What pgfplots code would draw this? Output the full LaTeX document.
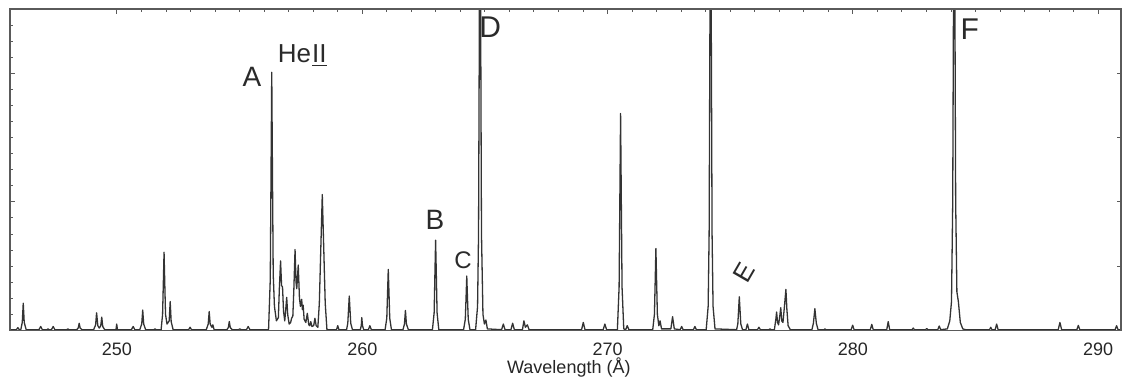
\documentclass[border=0pt]{standalone}
\usepackage{pgfplots}
\pgfplotsset{compat=1.18}
\usepackage{pgfplotstable}
\usepackage{fontspec}
\setmainfont{Liberation Sans}
\definecolor{specline}{HTML}{333333}
\definecolor{framecol}{HTML}{5A5A5A}
\definecolor{inkcol}{HTML}{2A2A2A}
\pgfplotstableread{
x y
245.64 0.05
245.90 0.05
245.96 0.18
246.02 0.05
246.08 0.05
246.14 0.5
246.18 1.7
246.22 0.5
246.30 0.05
246.82 0.05
246.89 0.25
246.96 0.05
247.15 0.05
247.19 0.1
247.23 0.05
247.33 0.05
247.40 0.25
247.47 0.05
247.95 0.05
248.00 0.1
248.05 0.05
248.36 0.05
248.42 0.15
248.46 0.45
248.50 0.15
248.58 0.05
249.05 0.05
249.13 0.35
249.17 1.1
249.22 0.3
249.28 0.15
249.34 0.3
249.38 0.83
249.42 0.25
249.50 0.05
249.96 0.05
249.99 0.4
250.02 0.05
250.59 0.05
250.66 0.25
250.73 0.05
250.93 0.05
251.01 0.4
251.05 1.27
251.09 0.4
251.17 0.05
251.50 0.05
251.55 0.1
251.60 0.05
251.80 0.05
251.86 1.0
251.89 2.9
251.92 4.87
251.95 2.9
251.98 1.0
252.04 0.4
252.13 0.6
252.17 1.8
252.21 0.55
252.29 0.05
252.92 0.05
252.98 0.2
253.04 0.05
253.64 0.05
253.72 0.4
253.76 1.18
253.80 0.4
253.87 0.2
253.91 0.35
253.96 0.05
254.48 0.05
254.54 0.18
254.58 0.56
254.62 0.18
254.70 0.05
254.95 0.05
255.01 0.1
255.07 0.05
255.28 0.05
255.35 0.25
255.42 0.05
256.18 0.05
256.25 3.2
256.28 9.6
256.31 16.07
256.34 9.6
256.37 3.5
256.42 1.5
256.50 0.6
256.58 0.8
256.62 2.6
256.67 4.33
256.71 2.8
256.75 2.7
256.79 1.2
256.84 0.6
256.88 1.3
256.92 2.06
256.96 1.0
257.02 0.4
257.08 0.5
257.12 0.76
257.17 0.9
257.21 2.5
257.26 5.04
257.30 3.0
257.33 2.6
257.39 4.07
257.44 2.0
257.48 1.5
257.53 1.94
257.56 1.3
257.59 1.58
257.63 0.7
257.70 0.5
257.76 1.07
257.82 0.35
257.86 0.3
257.90 0.55
257.95 0.25
258.02 0.3
258.07 0.76
258.12 0.3
258.19 0.2
258.25 1.7
258.31 5.1
258.37 8.46
258.43 5.1
258.49 1.7
258.56 0.05
258.95 0.05
259.00 0.3
259.05 0.05
259.36 0.05
259.41 0.45
259.44 1.3
259.47 2.14
259.50 1.3
259.53 0.45
259.60 0.05
259.92 0.05
259.96 0.3
259.98 0.8
260.01 0.3
260.06 0.05
260.25 0.05
260.31 0.3
260.37 0.05
260.93 0.05
261.00 0.76
261.03 2.3
261.06 3.8
261.09 2.3
261.12 0.76
261.19 0.05
261.66 0.05
261.72 0.4
261.76 1.25
261.80 0.4
261.88 0.05
262.86 0.05
262.93 1.1
262.96 3.4
262.99 5.62
263.02 3.4
263.05 1.1
263.12 0.05
264.13 0.05
264.20 0.7
264.23 2.0
264.26 3.39
264.29 2.0
264.32 0.7
264.39 0.05
264.62 0.05
264.70 1.5
264.74 6
264.77 18
264.80 30
264.83 18
264.86 6
264.92 1.0
264.98 0.4
265.04 0.65
265.10 0.1
265.68 0.05
265.75 0.4
265.82 0.05
266.06 0.05
266.13 0.45
266.20 0.05
266.53 0.05
266.59 0.6
266.65 0.2
266.73 0.35
266.80 0.05
268.94 0.05
269.01 0.5
269.08 0.05
269.82 0.05
269.89 0.4
269.96 0.05
270.40 0.05
270.47 2.7
270.50 8.1
270.53 13.5
270.56 8.1
270.59 2.7
270.66 0.1
270.74 0.05
270.80 0.3
270.87 0.05
271.84 0.05
271.91 1.0
271.94 3.0
271.97 5.1
272.00 3.0
272.03 1.0
272.09 0.3
272.14 0.6
272.20 0.1
272.58 0.1
272.65 0.86
272.72 0.1
272.96 0.05
273.02 0.25
273.08 0.05
273.50 0.05
273.56 0.25
273.62 0.05
274.02 0.05
274.10 1.5
274.14 6
274.17 18
274.20 30
274.23 18
274.26 6
274.30 1.5
274.38 0.1
275.26 0.05
275.31 0.42
275.34 1.26
275.37 2.1
275.40 1.26
275.43 0.42
275.50 0.05
275.64 0.05
275.70 0.4
275.76 0.05
276.11 0.05
276.17 0.2
276.23 0.05
276.57 0.05
276.62 0.1
276.67 0.05
276.80 0.05
276.86 0.7
276.89 1.15
276.93 0.5
276.97 0.35
277.02 0.9
277.06 1.42
277.10 0.6
277.15 0.5
277.21 1.5
277.27 2.56
277.31 1.3
277.36 0.3
277.45 0.05
278.33 0.05
278.39 0.45
278.42 0.9
278.45 1.36
278.48 0.9
278.51 0.45
278.58 0.05
278.82 0.05
278.86 0.1
278.90 0.05
279.93 0.05
279.99 0.33
280.05 0.05
280.71 0.05
280.77 0.38
280.83 0.05
281.38 0.05
281.44 0.55
281.50 0.05
282.41 0.05
282.46 0.15
282.51 0.05
282.96 0.05
283.01 0.12
283.06 0.05
283.46 0.05
283.52 0.28
283.58 0.05
283.85 0.1
283.95 0.6
284.02 1.8
284.07 8
284.10 20
284.13 30
284.16 20
284.19 8
284.24 2.4
284.30 1.8
284.38 0.5
284.48 0.1
284.60 0.05
285.57 0.05
285.62 0.2
285.67 0.05
285.80 0.05
285.86 0.4
285.92 0.05
288.37 0.05
288.44 0.5
288.51 0.05
289.13 0.05
289.19 0.32
289.25 0.05
290.69 0.05
290.75 0.3
290.81 0.05
290.93 0.05
}\spectrum
\begin{document}
\fontsize{9}{10}\selectfont
\begin{tikzpicture}
\begin{axis}[
  scale only axis,
  width=555.5pt, height=160.75pt,
  xmin=245.64, xmax=290.93,
  ymin=0, ymax=20,
  axis line style={draw=framecol, line width=0.6pt},
  xtick={250,260,270,280,290},
  minor x tick num=9,
  xtick pos=right,
  xticklabel pos=left,
  ytick={8,16},
  minor ytick={1,2,3,4,5,6,7,9,10,11,12,13,14,15,17,18,19},
  ytick pos=left,
  yticklabels={},
  tick align=inside,
  major tick length=2.5pt,
  minor tick length=1.3pt,
  every tick/.style={draw=framecol, line width=0.5pt},
  /pgf/number format/assume math mode=true,
  xticklabel style={font=\fontsize{9}{10}\selectfont, text=black!85, yshift=-3.2pt},
  xlabel={Wavelength (Å)},
  xlabel style={font=\fontsize{9}{10}\selectfont, text=black!85, at={(axis description cs:0.503,0)}, anchor=north, yshift=-10.5pt},
]
\addplot[specline, line width=0.65pt, line join=round] table[x=x, y=y] {\spectrum};
\node[inkcol, font=\fontsize{14}{14}\selectfont] at (axis cs:255.50,15.75) {A};
\node[inkcol, font=\fontsize{13}{13}\selectfont] at (axis cs:257.55,17.1) {He\kern0.5pt\underline{\smash{II}}};
\node[inkcol, font=\fontsize{14}{14}\selectfont] at (axis cs:262.96,6.86) {B};
\node[inkcol, font=\fontsize{12}{12}\selectfont] at (axis cs:264.11,4.38) {C};
\node[inkcol, font=\fontsize{15}{15}\selectfont] at (axis cs:265.22,18.9) {D};
\node[inkcol, font=\fontsize{13}{13}\selectfont, rotate=60] at (axis cs:275.56,3.63) {E};
\node[inkcol, font=\fontsize{15}{15}\selectfont] at (axis cs:284.77,18.75) {F};
\end{axis}
\begin{axis}[
  scale only axis,
  width=555.5pt, height=160.75pt,
  xmin=245.64, xmax=290.93,
  ymin=0, ymax=20,
  axis line style={draw=framecol, line width=0.6pt},
  xtick=\empty,
  ytick={4,8,12,16},
  ytick pos=right,
  yticklabels={},
  tick align=inside,
  major tick length=2pt,
  every tick/.style={draw=framecol, line width=0.5pt},
]
\addplot[draw=none] coordinates {(250,0)};
\end{axis}
\pgfresetboundingbox
\useasboundingbox ([shift={(-5pt,-24.25pt)}]current axis.south west) rectangle ([shift={(1pt,4.5pt)}]current axis.north east);
\end{tikzpicture}
\end{document}
